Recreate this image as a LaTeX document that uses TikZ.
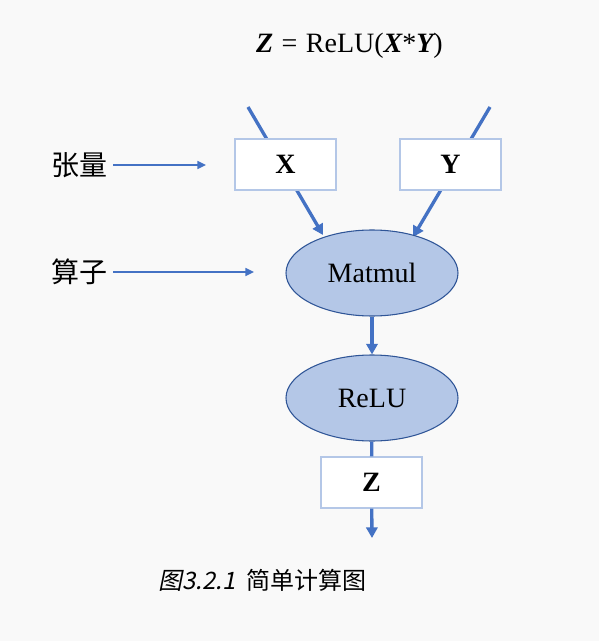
\documentclass[tikz,border=0pt]{standalone}
\usepackage{fontspec}
\setmainfont{Liberation Serif}
\newfontfamily\cjk{Noto Sans CJK SC}
\newfontfamily\cjkit[FakeSlant=0.2]{Noto Sans CJK SC}
\usetikzlibrary{shapes.geometric,arrows.meta}
\definecolor{bg}{HTML}{F9F9F9}
\definecolor{arr}{HTML}{4472C4}
\definecolor{boxline}{HTML}{B4C7E7}
\definecolor{ellfill}{HTML}{B4C7E7}
\definecolor{ellline}{HTML}{2F5597}
\tikzset{
  conn/.style={draw=arr, line width=2.5pt, -{Triangle[length=8pt,width=8.5pt]}},
  plainconn/.style={draw=arr, line width=2.5pt},
  thinconn/.style={draw=arr, line width=1.1pt, -{Triangle[length=6.5pt,width=6pt]}},
  tbox/.style={draw=boxline, line width=0.9pt, fill=white, minimum width=75.75pt, minimum height=38.25pt, inner sep=0pt, font=\fontsize{21}{24}\selectfont\bfseries},
  op/.style={ellipse, draw=ellline, line width=0.8pt, fill=ellfill, minimum width=129pt, minimum height=64.5pt, inner sep=0pt, font=\fontsize{21}{24}\selectfont},
  lab/.style={font=\cjk\fontsize{21}{24}\selectfont, inner sep=0pt}
}
\begin{document}
\begin{tikzpicture}[x=0.75pt,y=-0.75pt]
\fill[bg] (0,0) rectangle (599,641);
\useasboundingbox (0,0) rectangle (599,641);
% title
\node (title) at (349.5,46) {\fontsize{21}{24}\selectfont{\bfseries\itshape Z}\hspace{0.3em}=\hspace{0.3em}ReLU({\bfseries\itshape X}*{\bfseries\itshape Y})};
% free ends
\coordinate (xs) at (248,107);
\coordinate (xe) at (323,235);
\coordinate (ys) at (490,107);
\coordinate (ye) at (413,237);
\draw[conn] (xs) -- (xe);
\draw[conn] (ys) -- (ye);
% nodes
\node[tbox] (X) at (285.5,164.5) {X};
\node[tbox] (Y) at (450.5,164.5) {Y};
\node[op] (mm) at (372,273) {Matmul};
\node[op] (relu) at (372,398) {ReLU};
\node[tbox] (Z) at (371.5,482.5) {Z};
\coordinate (zout) at (372,538);
\draw[conn] (mm) -- (relu);
\draw[plainconn] (relu) -- (Z);
\draw[conn] (Z) -- (zout);
% labels
\node[lab] (tensor) at (79.5,165) {张量};
\node[lab] (opl) at (79.5,272) {算子};
\coordinate (ts) at (113,165);
\coordinate (te) at (206,165);
\coordinate (os) at (113,272);
\coordinate (oe) at (254,272);
\draw[thinconn] (ts) -- (te);
\draw[thinconn] (os) -- (oe);
% caption
\node (cap) at (262.5,580) {\fontsize{18}{20}\selectfont{\cjkit 图3.2.1}\hspace{0.45em}{\cjk 简单计算图}};
\end{tikzpicture}
\end{document}
